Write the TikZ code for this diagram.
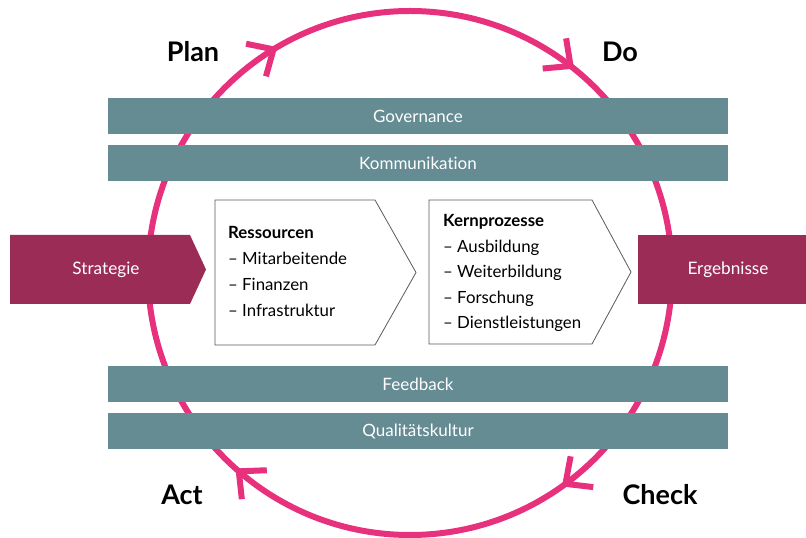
\documentclass[tikz,border=0pt]{standalone}
\usepackage{fontspec}
\setmainfont{Lato}[Ligatures={NoCommon}]
\usetikzlibrary{arrows.meta}
\definecolor{ringpink}{RGB}{232,49,125}
\definecolor{barteal}{RGB}{101,139,147}
\definecolor{boxwine}{RGB}{155,44,86}
\definecolor{chevline}{RGB}{90,90,90}
\begin{document}
\begin{tikzpicture}[x=1pt,y=1pt,
  bar/.style={fill=barteal, minimum width=620pt, minimum height=36pt, inner sep=0pt, text=white, font=\fontsize{17}{20}\selectfont},
  ringarc/.style={draw=ringpink, line width=6pt},
  barb/.style={draw=ringpink, line width=6pt, line join=bevel},
  phase/.style={font=\fontsize{27}{32}\selectfont\bfseries, inner sep=0pt, anchor=base},
  chev/.style={draw=chevline, line width=0.8pt, fill=white},
  item/.style={font=\fontsize{16.8}{20}\selectfont, inner sep=0pt, anchor=base west},
  wine/.style={fill=boxwine},
  winetext/.style={text=white, font=\fontsize{17.2}{20}\selectfont, inner sep=0pt}
]
\useasboundingbox (0,0) rectangle (806,538);
\coordinate (C) at (410,265);
% ring
\draw[ringarc] (C) circle[radius=262pt];
\coordinate (tplan) at ([shift={(121.4:262)}]C);
\coordinate (tdo) at ([shift={(52.2:262)}]C);
\coordinate (tcheck) at ([shift={(-53.6:262)}]C);
\coordinate (tact) at ([shift={(-130.8:262)}]C);
\draw[barb] ([shift={(168.4:28)}]tplan) -- (tplan) -- ([shift={(254.4:28)}]tplan);
\draw[barb] ([shift={(99.2:28)}]tdo) -- (tdo) -- ([shift={(185.2:28)}]tdo);
\draw[barb] ([shift={(-6.6:28)}]tcheck) -- (tcheck) -- ([shift={(79.4:28)}]tcheck);
\draw[barb] ([shift={(-83.8:28)}]tact) -- (tact) -- ([shift={(2.2:28)}]tact);
% phases
\node[phase] (plan) at (193,476) {Plan};
\node[phase] (do) at (620,476) {Do};
\node[phase] (act) at (182,33) {Act};
\node[phase] (check) at (660,33) {Check};
% bars
\node[bar] (gov) at (418,422) {Governance};
\node[bar] (kom) at (418,375) {Kommunikation};
\node[bar] (fb) at (418,154) {Feedback};
\node[bar] (qk) at (418,107) {Qualitätskultur};
% strategie / ergebnisse
\path[wine] (10,303) -- (190,303) -- (206,268.5) -- (190,234) -- (10,234) -- cycle;
\node[winetext] (strat) at (106,268.5) {Strategie};
\path[wine] (638,303) rectangle (806,234);
\node[winetext] (erg) at (728,268.5) {Ergebnisse};
% chevrons
\draw[chev] (215,338) -- (375,338) -- (416,265.5) -- (375,193) -- (215,193) -- cycle;
\draw[chev] (429,338) -- (592,338) -- (631,266) -- (592,194) -- (429,194) -- cycle;
\node[item, font=\fontsize{16.8}{20}\selectfont\bfseries] (r0) at (228,299) {Ressourcen};
\foreach \t [count=\i] in {Mitarbeitende, Finanzen, Infrastruktur}
  \node[item] (r\i) at (228,299-25.7*\i) {– \t};
\node[item, font=\fontsize{16.8}{20}\selectfont\bfseries] (k0) at (443,311) {Kernprozesse};
\foreach \t [count=\i] in {Ausbildung, Weiterbildung, Forschung, Dienstleistungen}
  \node[item] (k\i) at (443,311-25.5*\i) {– \t};
\end{tikzpicture}
\end{document}
